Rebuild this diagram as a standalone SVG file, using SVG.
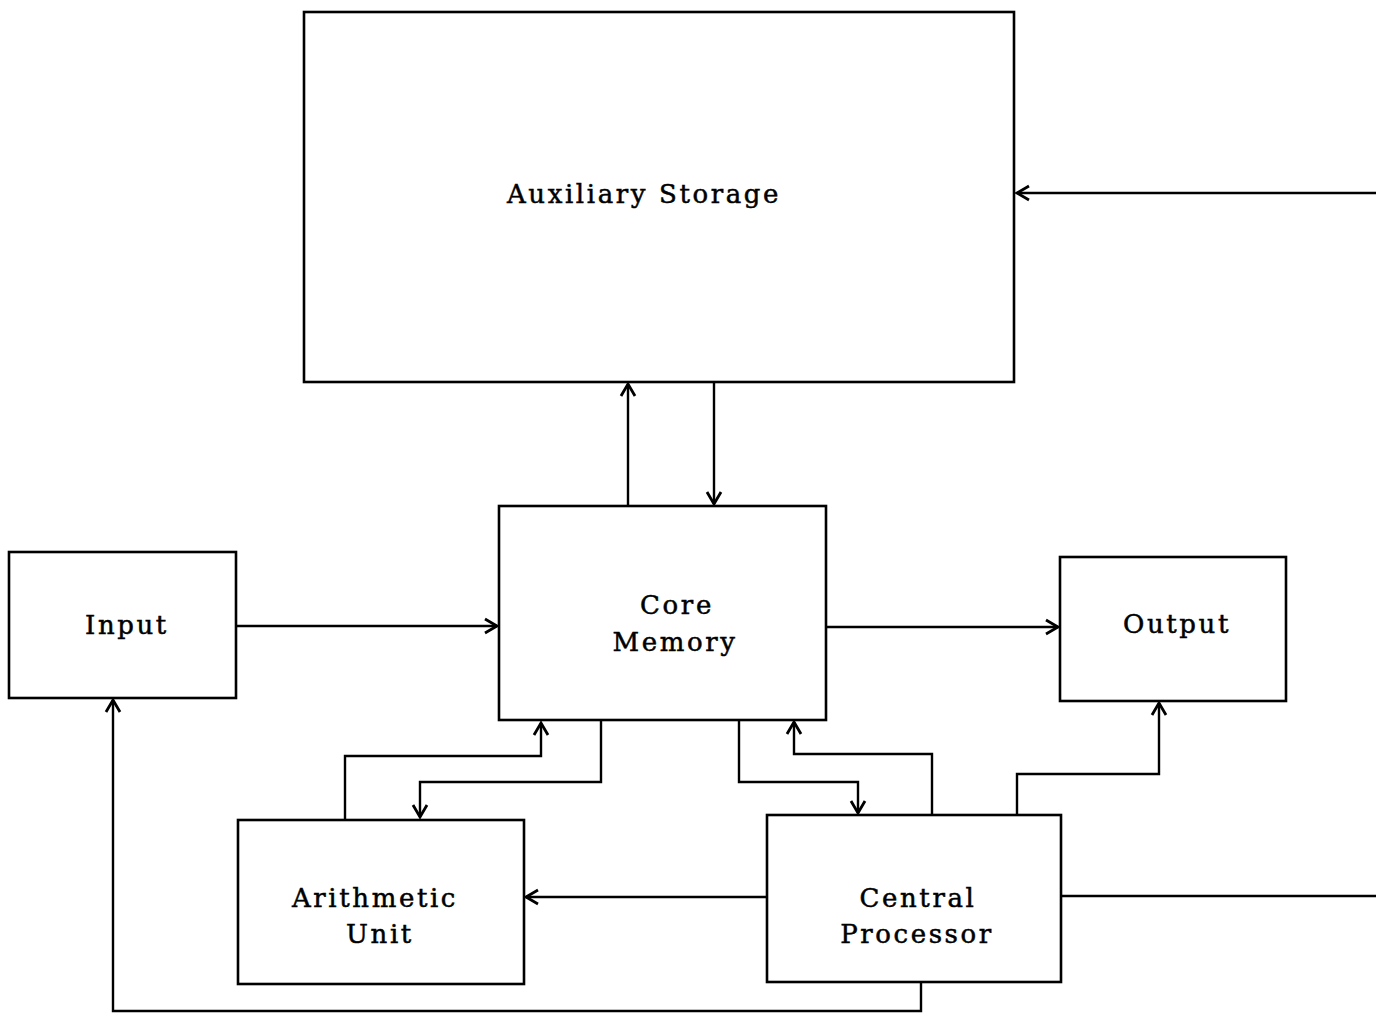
<svg xmlns="http://www.w3.org/2000/svg" width="1376" height="1013" viewBox="0 0 1376 1013">
<style>
.box{fill:#fff;stroke:#000;stroke-width:2.6}
.c{fill:none;stroke:#000;stroke-width:2.4}
text{font-family:"DejaVu Serif","Liberation Serif",serif;font-size:26px;letter-spacing:2.6px;fill:#000;stroke:#000;stroke-width:0.5;text-anchor:middle}
</style>
<defs>
<marker id="a" markerUnits="userSpaceOnUse" markerWidth="20" markerHeight="20" refX="0" refY="0" viewBox="-14 -10 16 20" orient="auto">
<path d="M-12,-7 L0,0 L-12,7" fill="none" stroke="#000" stroke-width="2.8"/>
</marker>
</defs>
<rect width="1376" height="1013" fill="#fff"/>
<g id="connectors">
<path class="c" d="M628,506 V384" marker-end="url(#a)"/>
<path class="c" d="M714,382 V504" marker-end="url(#a)"/>
<path class="c" d="M1376,193 H1017" marker-end="url(#a)"/>
<path class="c" d="M236,626 H497" marker-end="url(#a)"/>
<path class="c" d="M826,627 H1058" marker-end="url(#a)"/>
<path class="c" d="M345,820 V756 H541 V723" marker-end="url(#a)"/>
<path class="c" d="M601,721 V782 H420 V817" marker-end="url(#a)"/>
<path class="c" d="M739,721 V782 H858 V813" marker-end="url(#a)"/>
<path class="c" d="M932,815 V754 H794 V722" marker-end="url(#a)"/>
<path class="c" d="M1017,815 V774 H1159 V703" marker-end="url(#a)"/>
<path class="c" d="M767,897 H526" marker-end="url(#a)"/>
<path class="c" d="M1061,896 H1376"/>
<path class="c" d="M921,982 V1011 H113 V700" marker-end="url(#a)"/>
</g>
<g id="aux"><rect class="box" x="304" y="12" width="710" height="370"/><text x="644" y="203">Auxiliary Storage</text></g>
<g id="core"><rect class="box" x="499" y="506" width="327" height="214"/><text x="677" y="614">Core</text><text x="675" y="651">Memory</text></g>
<g id="input"><rect class="box" x="9" y="552" width="227" height="146"/><text x="127" y="634">Input</text></g>
<g id="output"><rect class="box" x="1060" y="557" width="226" height="144"/><text x="1177" y="633">Output</text></g>
<g id="arith"><rect class="box" x="238" y="820" width="286" height="164"/><text x="375" y="907">Arithmetic</text><text x="380" y="943">Unit</text></g>
<g id="cpu"><rect class="box" x="767" y="815" width="294" height="167"/><text x="918" y="907">Central</text><text x="917" y="943">Processor</text></g>
</svg>
